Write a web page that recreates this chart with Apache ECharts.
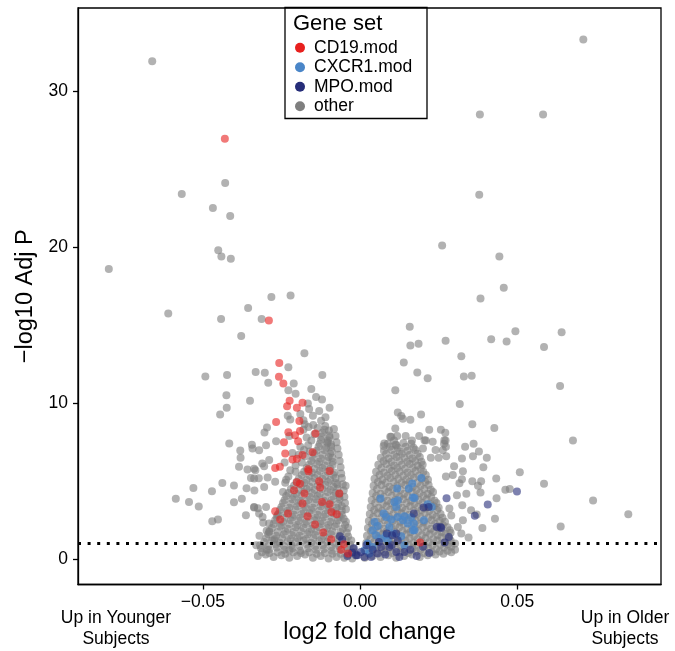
<!DOCTYPE html>
<html>
<head>
<meta charset="utf-8">
<script src="https://cdn.jsdelivr.net/npm/echarts@6/dist/echarts.min.js"></script>
<style>html,body{margin:0;padding:0;background:#fff;}#c{width:675px;height:651px;}</style>
</head>
<body>
<div id="c"></div>
<script>
// ---- data ----
const xTicks = [-0.05, 0, 0.05];
const xTickLabels = ['\u22120.05', '0.00', '0.05'];
const yTicks = [0, 10, 20, 30];
const yTickLabels = ['0', '10', '20', '30'];
const threshold = 1.0;
const legendNames = ['CD19.mod', 'CXCR1.mod', 'MPO.mod', 'other'];

const cd19 = [
  [-0.0430,26.94],[-0.0290,15.3],[-0.0257,12.58],[-0.0258,11.69],[-0.0244,11.26],[-0.0224,10.15],[-0.0232,9.8],
  [-0.0183,10.02],[-0.0201,9.7],[-0.0267,8.8],[-0.0193,8.85],[-0.0228,8.14],[-0.0207,7.95],[-0.0191,8.22],
  [-0.0142,8.06],[-0.0197,7.56],[-0.0242,7.5],[-0.0238,6.78],[-0.0183,6.67],[-0.0151,6.86],[-0.0215,6.39],
  [-0.0201,6.43],[-0.0270,5.85],[-0.0255,5.92],[-0.0165,5.77],[-0.0164,5.64],[-0.0097,5.66],[-0.0201,4.93],
  [-0.0191,4.83],[-0.0210,4.42],[-0.0177,4.21],[-0.0130,5.0],[-0.0127,4.6],[-0.0097,3.53],[-0.0091,3.03],
  [-0.0066,4.21],[-0.0074,2.88],[-0.0121,3.67],[-0.0183,3.57],[-0.0270,3.08],[-0.0254,2.54],[-0.0229,2.93],
  [-0.0167,2.76],[-0.0143,2.22],[-0.0117,1.71],[-0.0092,1.28],[-0.0051,0.96],[-0.0038,0.37],[-0.0060,0.6],
  [0.0191,1.07]
];

const cxcr1 = [
  [0.0195,5.21],[0.0118,4.53],[0.0155,4.53],[0.0166,4.85],[0.0168,3.96],[0.0065,3.89],[0.0109,3.67],
  [0.0115,3.35],[0.0228,3.35],[0.0203,2.5],[0.0075,2.93],[0.0083,2.71],[0.0099,2.54],[0.0120,2.71],
  [0.0141,2.76],[0.0152,2.29],[0.0171,2.29],[0.0173,1.86],[0.0046,2.39],[0.0056,2.13],[0.0040,1.86],
  [0.0051,1.54],[0.0067,1.33],[0.0083,1.54],[0.0107,1.65],[0.0131,1.47],[0.0088,1.22],[0.0024,1.0],
  [0.0040,0.79],[0.0014,0.58],[0.0030,0.37],[0.0141,0.9],[0.0162,2.69],[0.0215,3.53],[0.0136,2.5],
  [0.0120,3.78],[0.0093,2.07],[0.0168,1.86],[0.0173,3.93]
];

const mpo = [
  [0.0499,4.34],[0.0406,3.5],[0.0365,2.78],[0.0275,3.9],[0.0282,1.43],[0.0269,1.07],[0.0258,2.0],
  [0.0171,2.93],[0.0202,3.31],[0.0218,3.35],[0.0244,2.07],[0.0256,2.07],[0.0085,1.65],[0.0102,1.54],
  [0.0115,1.65],[0.0067,0.79],[0.0093,0.79],[0.0115,0.47],[0.0141,0.47],[0.0003,0.47],[-0.0008,0.26],
  [0.0014,0.15],[0.0035,0.15],[0.0056,0.37],[-0.0064,1.47],[-0.0057,1.26],[-0.0025,0.43],[-0.0013,0.26],
  [-0.0040,0.2],[-0.0020,0.7],[0.0020,0.9],[0.0040,0.6],[0.0060,1.1],[0.0080,0.3],[0.0100,0.9],
  [0.0120,1.2],[0.0160,0.6],[0.0180,0.2],[0.0200,0.8],[0.0125,0.15],[0.0220,0.4]
];

const otherOutliers = [
  [-0.0661,31.9],[-0.0429,24.1],[-0.0567,23.4],[-0.0468,22.5],[-0.0413,22.0],[-0.0451,19.8],[-0.0441,19.4],
  [-0.0411,19.25],[-0.0799,18.6],[-0.0282,16.8],[-0.0221,16.9],[-0.0356,16.1],[-0.0610,15.75],[-0.0442,15.4],
  [-0.0313,15.4],[-0.0378,14.3],[-0.0177,13.2],[-0.0228,12.3],[-0.0332,12.0],[-0.0492,11.7],[-0.0423,11.8],
  [-0.0303,11.95],[-0.0292,11.3],[-0.0211,11.26],[-0.0120,11.8],[-0.0228,10.83],[-0.0425,10.5],[-0.0350,10.15],
  [-0.0424,9.7],[-0.0445,9.27],[-0.0162,9.63],[-0.0166,9.98],[-0.0121,10.24],[-0.0097,9.7],[-0.0222,8.96],
  [-0.0296,8.44],[-0.0176,8.65],[-0.0164,8.48],[-0.0149,8.6],[-0.0124,8.87],[-0.0111,8.53],[-0.0083,8.35],
  [-0.0098,7.93],[-0.0304,8.12],[-0.0299,7.3],[-0.0267,7.56],[-0.0344,7.33],[-0.0321,6.99],[-0.0416,7.42],
  [-0.0381,6.97],[-0.0380,6.5],[-0.0385,5.92],[-0.0358,5.75],[-0.0333,5.7],[-0.0347,5.21],[-0.0322,5.19],
  [-0.0311,6.13],[-0.0294,5.24],[-0.0270,4.96],[-0.0289,6.35],[-0.0361,4.55],[-0.0336,4.4],[-0.0401,4.72],
  [-0.0438,4.89],[-0.0471,4.36],[-0.0530,4.57],[-0.0586,3.87],[-0.0544,3.67],[-0.0513,3.38],[-0.0401,3.65],
  [-0.0376,3.87],[-0.0363,2.82],[-0.0337,3.31],[-0.0325,3.27],[-0.0321,2.93],[-0.0470,2.44],[-0.0452,2.54],
  [-0.0308,2.33],[-0.0297,1.82],[-0.0297,0.62],[-0.0262,2.82],[-0.0342,7.1],[-0.0337,5.8],[-0.0305,5.96],
  [-0.0337,5.17],[-0.0305,4.63],[-0.0337,3.35],[-0.0299,3.35],[-0.0310,2.71],[-0.0289,2.29],[-0.0289,1.75],
  [-0.0273,1.22],[-0.0225,0.58],[-0.0190,9.3],[-0.0150,9.2],[-0.0130,9.5],[-0.0140,10.4],[-0.0110,9.1],
  [-0.0180,8.9],[-0.0170,7.8],[-0.0120,8.1],[-0.0105,7.5],[-0.0230,9.2],[-0.0205,10.6],[-0.0155,10.9],
  [-0.0325,0.2],[-0.0330,0.9],[-0.0320,1.5],
  [0.0710,33.3],[0.0381,28.5],[0.0582,28.5],[0.0379,23.35],[0.0261,20.1],[0.0443,19.4],[0.0457,17.4],
  [0.0383,16.7],[0.0158,14.9],[0.0160,13.7],[0.0186,13.8],[0.0272,14.0],[0.0139,12.6],[0.0322,13.0],
  [0.0417,14.1],[0.0466,13.95],[0.0494,14.6],[0.0641,14.55],[0.0585,13.6],[0.0330,11.7],[0.0355,11.75],
  [0.0636,11.1],[0.0317,9.94],[0.0357,8.65],[0.0427,8.4],[0.0677,7.6],[0.0508,5.58],[0.0585,4.83],
  [0.0741,3.76],[0.0853,2.88],[0.0638,2.1],[0.0182,11.97],[0.0215,11.6],[0.0112,10.83],[0.0194,9.27],
  [0.0120,9.4],[0.0131,9.18],[0.0136,9.0],[0.0160,8.93],[0.0112,8.38],[0.0075,7.26],[0.0096,7.84],
  [0.0433,5.17],[0.0429,2.6],[0.0389,2.0],[0.0345,1.39],[0.0322,1.65],[0.0462,4.45],[0.0476,4.5],
  [0.0434,3.9],[0.0392,5.9],[0.0403,6.5],[0.0361,7.4],[0.0378,6.9],[0.0334,7.2],[0.0324,6.45],
  [0.0359,6.6],[0.0327,5.64],[0.0299,5.96],[0.0357,5.0],[0.0385,5.0],[0.0316,4.87],[0.0324,5.13],
  [0.0383,4.28],[0.0375,4.7],[0.0371,2.87],[0.0267,7.4],[0.0272,7.6],[0.0274,6.6],[0.0295,5.4],
  [0.0273,5.3],[0.0308,4.1],[0.0338,4.2],[0.0325,3.46],[0.0353,3.14],[0.0327,2.5],[0.0311,2.07],
  [0.0284,3.25],[0.0290,2.8],[0.0108,7.6],[0.0118,7.9],[0.0145,7.9],[0.0188,7.9],[0.0220,8.3],
  [0.0257,8.3],[0.0271,8.1],[0.0273,7.2],[0.0209,7.6],[0.0240,7.0],[0.0250,6.5],[0.0225,6.5],
  [0.0200,7.1],[0.0165,7.6],[0.0077,7.42],[0.0099,7.84],[0.0115,7.3],[0.0205,7.63],[0.0231,7.52],
  [0.0268,7.63],[0.0263,6.99]
];

const otherCoreLeft = [
  [-0.030,0.3],[-0.0275,0.15],[-0.025,0.25],[-0.0225,0.1],[-0.020,0.2],[-0.0175,0.3],[-0.015,0.1],[-0.0125,0.2],[-0.010,0.05],[-0.0075,0.15],[-0.005,0.1],[-0.0025,0.05],
  [-0.0312,0.45],[-0.0288,0.4],[-0.0262,0.45],[-0.0238,0.35],[-0.0212,0.45],[-0.0188,0.4],[-0.0162,0.45],[-0.0138,0.35],[-0.0112,0.4],[-0.0088,0.35],[-0.0062,0.35],[-0.0038,0.3],[-0.0012,0.25],
  [-0.0315,0.7],[-0.029,0.6],[-0.0265,0.75],[-0.024,0.6],[-0.0215,0.7],[-0.019,0.55],[-0.0165,0.7],[-0.014,0.6],[-0.0115,0.65],[-0.009,0.55],[-0.0065,0.6],[-0.004,0.5],[-0.0018,0.45],
  [-0.0318,0.9],[-0.0292,0.85],[-0.0268,0.95],[-0.0242,0.85],[-0.0218,0.9],[-0.0192,0.85],[-0.0168,0.95],[-0.0142,0.85],[-0.0118,0.9],[-0.0092,0.8],[-0.0068,0.85],[-0.0042,0.75],[-0.0022,0.7],
  [-0.0305,1.1],[-0.028,1.2],[-0.0255,1.05],[-0.023,1.15],[-0.0205,1.1],[-0.018,1.2],[-0.0155,1.05],[-0.013,1.15],[-0.0105,1.1],[-0.008,1.0],[-0.0055,1.1],[-0.0032,0.95],
  [-0.0298,1.35],[-0.0272,1.3],[-0.0248,1.35],[-0.0222,1.3],[-0.0198,1.35],[-0.0172,1.3],[-0.0148,1.35],[-0.0122,1.3],[-0.0098,1.35],[-0.0072,1.3],[-0.0046,1.25],[-0.0028,1.2],
  [-0.0292,1.6],[-0.0267,1.5],[-0.0242,1.6],[-0.0217,1.55],[-0.0192,1.5],[-0.0167,1.6],[-0.0142,1.55],[-0.0117,1.5],[-0.0092,1.6],[-0.0067,1.5],[-0.0038,1.45],
  [-0.0288,1.8],[-0.0262,1.75],[-0.0238,1.8],[-0.0212,1.75],[-0.0188,1.8],[-0.0162,1.75],[-0.0138,1.8],[-0.0112,1.75],[-0.0088,1.8],[-0.0062,1.75],[-0.0042,1.7],
  [-0.028,2.0],[-0.0255,2.1],[-0.023,1.95],[-0.0205,2.05],[-0.018,2.0],[-0.0155,1.95],[-0.013,2.05],[-0.0105,2.0],[-0.008,2.1],[-0.0055,1.95],[-0.0038,2.0],
  [-0.0275,2.25],[-0.025,2.2],[-0.0225,2.25],[-0.020,2.2],[-0.0175,2.25],[-0.015,2.2],[-0.0125,2.25],[-0.010,2.2],[-0.0075,2.25],[-0.0048,2.2],
  [-0.027,2.5],[-0.0245,2.4],[-0.022,2.5],[-0.0195,2.45],[-0.017,2.4],[-0.0145,2.5],[-0.012,2.45],[-0.0095,2.4],[-0.007,2.5],[-0.0045,2.4],
  [-0.0265,2.7],[-0.024,2.65],[-0.0215,2.7],[-0.019,2.65],[-0.0165,2.7],[-0.014,2.65],[-0.0115,2.7],[-0.009,2.65],[-0.0065,2.7],[-0.0052,2.6],
  [-0.026,2.9],[-0.0235,2.95],[-0.021,2.85],[-0.0185,2.9],[-0.016,2.95],[-0.0135,2.85],[-0.011,2.9],[-0.0085,2.95],[-0.0058,2.85],
  [-0.0255,3.15],[-0.023,3.1],[-0.0205,3.15],[-0.018,3.1],[-0.0155,3.15],[-0.013,3.1],[-0.0105,3.15],[-0.008,3.1],[-0.0058,3.1],
  [-0.025,3.35],[-0.0225,3.3],[-0.020,3.4],[-0.0175,3.35],[-0.015,3.3],[-0.0125,3.4],[-0.010,3.35],[-0.0075,3.3],[-0.0058,3.4],
  [-0.0245,3.6],[-0.022,3.55],[-0.0195,3.6],[-0.017,3.55],[-0.0145,3.6],[-0.012,3.55],[-0.0095,3.6],[-0.007,3.55],
  [-0.024,3.8],[-0.0215,3.85],[-0.019,3.75],[-0.0165,3.8],[-0.014,3.85],[-0.0115,3.75],[-0.009,3.8],[-0.0065,3.85],
  [-0.0235,4.05],[-0.021,4.0],[-0.0185,4.05],[-0.016,4.0],[-0.0135,4.05],[-0.011,4.0],[-0.0085,4.05],[-0.0066,4.0],
  [-0.0228,4.25],[-0.0203,4.2],[-0.0178,4.3],[-0.0153,4.25],[-0.0128,4.2],[-0.0103,4.3],[-0.0078,4.25],[-0.0066,4.2],
  [-0.022,4.5],[-0.0195,4.45],[-0.017,4.5],[-0.0145,4.45],[-0.012,4.5],[-0.0095,4.45],[-0.0072,4.5],
  [-0.021,4.7],[-0.0185,4.75],[-0.016,4.65],[-0.0135,4.7],[-0.011,4.75],[-0.0085,4.65],[-0.0072,4.8],
  [-0.0202,4.95],[-0.0177,4.9],[-0.0152,4.95],[-0.0127,4.9],[-0.0102,4.95],[-0.0078,4.9],
  [-0.0195,5.15],[-0.017,5.1],[-0.0145,5.2],[-0.012,5.15],[-0.0095,5.1],[-0.0078,5.2],
  [-0.0185,5.4],[-0.016,5.35],[-0.0135,5.4],[-0.011,5.35],[-0.0085,5.4],
  [-0.0178,5.6],[-0.0153,5.55],[-0.0128,5.65],[-0.0103,5.6],[-0.0082,5.55],
  [-0.017,5.85],[-0.0145,5.8],[-0.012,5.85],[-0.0095,5.8],
  [-0.0162,6.05],[-0.0137,6.1],[-0.0112,6.0],[-0.0087,6.05],
  [-0.0155,6.3],[-0.013,6.25],[-0.0105,6.3],[-0.0088,6.25],
  [-0.015,6.5],[-0.0125,6.45],[-0.010,6.55],[-0.0088,6.5],
  [-0.0145,6.75],[-0.012,6.7],[-0.0095,6.75],
  [-0.0138,6.95],[-0.0113,7.0],[-0.009,6.9],
  [-0.0132,7.2],[-0.0108,7.15],[-0.0092,7.2],
  [-0.0128,7.4],[-0.0103,7.45],[-0.0092,7.35],
  [-0.0125,7.65],[-0.0102,7.6],
  [-0.0122,7.85],[-0.0097,7.8],
  [-0.0113,8.3],[-0.0099,8.25]
];

const otherLeftFill = [
  [-0.0045,3.2],[-0.0048,3.6],[-0.0050,4.0],[-0.0052,4.4],[-0.0046,4.7],[-0.0055,4.8],[-0.0058,5.2],
  [-0.0060,5.5],[-0.0062,5.9],[-0.0065,6.3],[-0.0068,6.7],[-0.0072,7.1],[-0.0075,7.5],[-0.0078,7.9],
  [-0.0245,4.3],[-0.0238,4.9],[-0.0228,5.3],[-0.0222,5.7],[-0.0205,6.0],[-0.0215,6.8],[-0.0190,7.2],
  [-0.0178,7.0],[-0.0225,7.9],[-0.0165,7.3],[-0.0155,7.6],[-0.0145,8.0],[-0.0180,8.3],[-0.0135,8.4],
  [-0.0205,5.6],[-0.0185,6.2],[-0.0175,6.6],[-0.0160,6.9],[-0.0235,5.1],[-0.0240,6.2],[-0.0195,6.7]
];

const otherCoreRight = [
  [0.0015,0.1],[0.004,0.2],[0.0065,0.15],[0.009,0.25],[0.0115,0.1],[0.014,0.2],[0.0165,0.3],[0.019,0.15],[0.0215,0.25],[0.024,0.3],[0.0265,0.35],[0.029,0.45],
  [0.0028,0.35],[0.0053,0.4],[0.0078,0.45],[0.0103,0.4],[0.0128,0.45],[0.0153,0.4],[0.0178,0.5],[0.0203,0.4],[0.0228,0.45],[0.0253,0.5],[0.0278,0.55],[0.0302,0.6],
  [0.0018,0.55],[0.0042,0.65],[0.0067,0.6],[0.0092,0.7],[0.0117,0.6],[0.0142,0.65],[0.0167,0.7],[0.0192,0.6],[0.0217,0.7],[0.0242,0.65],[0.0267,0.75],[0.029,0.8],
  [0.003,0.85],[0.0055,0.9],[0.008,0.85],[0.0105,0.95],[0.013,0.85],[0.0155,0.9],[0.018,0.95],[0.0205,0.85],[0.023,0.9],[0.0255,0.95],[0.028,0.95],[0.0302,1.0],
  [0.002,1.05],[0.0045,1.1],[0.007,1.15],[0.0095,1.05],[0.012,1.1],[0.0145,1.15],[0.017,1.05],[0.0195,1.15],[0.022,1.1],[0.0245,1.2],[0.027,1.1],[0.0288,1.2],
  [0.0033,1.3],[0.0058,1.35],[0.0083,1.3],[0.0108,1.35],[0.0133,1.3],[0.0158,1.35],[0.0183,1.3],[0.0208,1.35],[0.0233,1.3],[0.0258,1.4],[0.0283,1.35],
  [0.0022,1.5],[0.0047,1.55],[0.0072,1.6],[0.0097,1.5],[0.0122,1.55],[0.0147,1.6],[0.0172,1.5],[0.0197,1.55],[0.0222,1.6],[0.0247,1.55],[0.0272,1.6],[0.0288,1.7],
  [0.0035,1.8],[0.006,1.75],[0.0085,1.8],[0.011,1.75],[0.0135,1.8],[0.016,1.75],[0.0185,1.8],[0.021,1.75],[0.0235,1.8],[0.026,1.75],[0.0285,1.85],
  [0.0025,2.0],[0.005,2.05],[0.0075,1.95],[0.010,2.0],[0.0125,2.05],[0.015,1.95],[0.0175,2.0],[0.020,2.05],[0.0225,1.95],[0.025,2.0],[0.0278,2.05],
  [0.0038,2.25],[0.0063,2.2],[0.0088,2.25],[0.0113,2.2],[0.0138,2.25],[0.0163,2.2],[0.0188,2.25],[0.0213,2.2],[0.0238,2.25],[0.0263,2.2],
  [0.0028,2.45],[0.0053,2.4],[0.0078,2.5],[0.0103,2.45],[0.0128,2.4],[0.0153,2.5],[0.0178,2.45],[0.0203,2.4],[0.0228,2.5],[0.0253,2.45],[0.027,2.4],
  [0.0042,2.7],[0.0067,2.65],[0.0092,2.7],[0.0117,2.65],[0.0142,2.7],[0.0167,2.65],[0.0192,2.7],[0.0217,2.65],[0.0242,2.7],[0.0262,2.65],
  [0.0031,2.9],[0.0056,2.95],[0.0081,2.85],[0.0106,2.9],[0.0131,2.95],[0.0156,2.85],[0.0181,2.9],[0.0206,2.95],[0.0231,2.85],[0.0256,2.9],
  [0.0045,3.15],[0.007,3.1],[0.0095,3.15],[0.012,3.1],[0.0145,3.15],[0.017,3.1],[0.0195,3.15],[0.022,3.1],[0.0245,3.15],
  [0.0034,3.35],[0.0059,3.3],[0.0084,3.4],[0.0109,3.35],[0.0134,3.3],[0.0159,3.4],[0.0184,3.35],[0.0209,3.3],[0.0234,3.4],[0.025,3.3],
  [0.0048,3.6],[0.0073,3.55],[0.0098,3.6],[0.0123,3.55],[0.0148,3.6],[0.0173,3.55],[0.0198,3.6],[0.0223,3.55],[0.0243,3.6],
  [0.0037,3.8],[0.0062,3.85],[0.0087,3.75],[0.0112,3.8],[0.0137,3.85],[0.0162,3.75],[0.0187,3.8],[0.0212,3.85],[0.0237,3.75],
  [0.0051,4.05],[0.0076,4.0],[0.0101,4.05],[0.0126,4.0],[0.0151,4.05],[0.0176,4.0],[0.0201,4.05],[0.0226,4.0],
  [0.004,4.25],[0.0065,4.2],[0.009,4.3],[0.0115,4.25],[0.014,4.2],[0.0165,4.3],[0.019,4.25],[0.0215,4.2],[0.0232,4.3],
  [0.0054,4.5],[0.0079,4.45],[0.0104,4.5],[0.0129,4.45],[0.0154,4.5],[0.0179,4.45],[0.0204,4.5],[0.0225,4.45],
  [0.0043,4.7],[0.0068,4.75],[0.0093,4.65],[0.0118,4.7],[0.0143,4.75],[0.0168,4.65],[0.0193,4.7],[0.0218,4.75],
  [0.0057,4.95],[0.0082,4.9],[0.0107,4.95],[0.0132,4.9],[0.0157,4.95],[0.0182,4.9],[0.0207,4.95],
  [0.0046,5.15],[0.0071,5.1],[0.0096,5.2],[0.0121,5.15],[0.0146,5.1],[0.0171,5.2],[0.0196,5.15],[0.0216,5.1],
  [0.0062,5.4],[0.0087,5.35],[0.0112,5.4],[0.0137,5.35],[0.0162,5.4],[0.0187,5.35],[0.0209,5.4],
  [0.0051,5.6],[0.0076,5.55],[0.0101,5.65],[0.0126,5.6],[0.0151,5.55],[0.0176,5.65],[0.0201,5.6],
  [0.0068,5.85],[0.0093,5.8],[0.0118,5.85],[0.0143,5.8],[0.0168,5.85],[0.0193,5.8],
  [0.0058,6.05],[0.0083,6.1],[0.0108,6.0],[0.0133,6.05],[0.0158,6.1],[0.0183,6.0],[0.0199,6.05],
  [0.0075,6.3],[0.010,6.25],[0.0125,6.3],[0.015,6.25],[0.0175,6.3],[0.0195,6.25],
  [0.0066,6.5],[0.0091,6.45],[0.0116,6.55],[0.0141,6.5],[0.0166,6.45],[0.019,6.55],
  [0.0083,6.75],[0.0108,6.7],[0.0133,6.75],[0.0158,6.7],[0.0183,6.75],
  [0.0076,6.95],[0.0101,7.0],[0.0126,6.9],[0.0151,6.95],[0.0176,7.0],
  [0.0095,7.2],[0.012,7.15],[0.0145,7.2],[0.017,7.15],
  [0.0088,7.4],[0.0113,7.35],[0.0138,7.45],[0.0163,7.4]
];

const other = otherCoreLeft.concat(otherLeftFill, otherCoreRight, otherOutliers);

// ---- chart ----
const FONT = '"Liberation Sans", Arial, Helvetica, sans-serif';
const chart = echarts.init(document.getElementById('c'), null, {renderer: 'canvas'});
const ptSize = 8;
const option = {
  animation: false,
  backgroundColor: '#fff',
  textStyle: {fontFamily: FONT},
  grid: {left: 78, right: 14, top: 8, bottom: 66.5, show: true, borderColor: '#000', borderWidth: 1.3, containLabel: false},
  xAxis: {
    type: 'value', min: -0.0897, max: 0.0957,
    splitLine: {show: false},
    axisLine: {show: true, onZero: false, lineStyle: {color: '#000', width: 1.3}},
    axisTick: {show: true, length: 5, customValues: xTicks, lineStyle: {color: '#000', width: 1.3}},
    axisLabel: {customValues: xTicks, formatter: v => xTickLabels[xTicks.indexOf(v)] ?? '', fontSize: 17.5, color: '#000', margin: 9, fontFamily: FONT},
    name: 'log2 fold change', nameLocation: 'middle', nameGap: 36,
    nameTextStyle: {fontSize: 23.5, color: '#000', fontFamily: FONT}
  },
  yAxis: {
    type: 'value', min: -1.62, max: 35.32,
    splitLine: {show: false},
    axisLine: {show: true, onZero: false, lineStyle: {color: '#000', width: 1.3}},
    axisTick: {show: true, length: 5, customValues: yTicks, lineStyle: {color: '#000', width: 1.3}},
    axisLabel: {customValues: yTicks, formatter: v => yTickLabels[yTicks.indexOf(v)] ?? '', fontSize: 17.5, color: '#000', margin: 10, fontFamily: FONT},
    name: '\u2212log10 Adj P', nameLocation: 'middle', nameGap: 40,
    nameTextStyle: {fontSize: 23.5, color: '#000', fontFamily: FONT}
  },
  legend: {
    data: legendNames, orient: 'vertical', left: 290, top: 33,
    icon: 'circle', itemWidth: 18, itemHeight: 10, itemGap: 0,
    itemStyle: {opacity: 1},
    textStyle: {fontSize: 17.5, lineHeight: 19.5, color: '#000', fontFamily: FONT}
  },
  graphic: [
    {type: 'rect', shape: {x: 285, y: 7.5, width: 142, height: 111}, style: {fill: 'rgba(0,0,0,0)', stroke: '#000', lineWidth: 1.3}, z: 100, silent: true},
    {type: 'text', x: 293, y: 24, style: {text: 'Gene set', font: '22px ' + FONT, fill: '#000', align: 'left', verticalAlign: 'middle'}, z: 100},
    {type: 'text', x: 116, y: 629, style: {text: 'Up in Younger\nSubjects', font: '17.5px ' + FONT, fill: '#000', align: 'center', verticalAlign: 'middle', lineHeight: 21}, z: 100},
    {type: 'text', x: 625, y: 629, style: {text: 'Up in Older\nSubjects', font: '17.5px ' + FONT, fill: '#000', align: 'center', verticalAlign: 'middle', lineHeight: 21}, z: 100}
  ],
  series: [
    {name: 'other', type: 'scatter', data: other, symbolSize: ptSize, itemStyle: {color: '#7f7f7f', opacity: 0.6}, z: 2},
    {name: 'CXCR1.mod', type: 'scatter', data: cxcr1, symbolSize: ptSize, itemStyle: {color: '#4a86c8', opacity: 0.75}, z: 3},
    {name: 'MPO.mod', type: 'scatter', data: mpo, symbolSize: ptSize, itemStyle: {color: '#262d79', opacity: 0.6}, z: 3},
    {name: 'CD19.mod', type: 'scatter', data: cd19, symbolSize: ptSize, itemStyle: {color: '#e8201e', opacity: 0.6}, z: 4,
      markLine: {silent: true, symbol: ['none', 'none'], label: {show: false},
        lineStyle: {color: '#000', type: [3, 6.6], width: 3, cap: 'butt'},
        data: [{yAxis: threshold}]}}
  ]
};
chart.setOption(option);
</script>
</body>
</html>
